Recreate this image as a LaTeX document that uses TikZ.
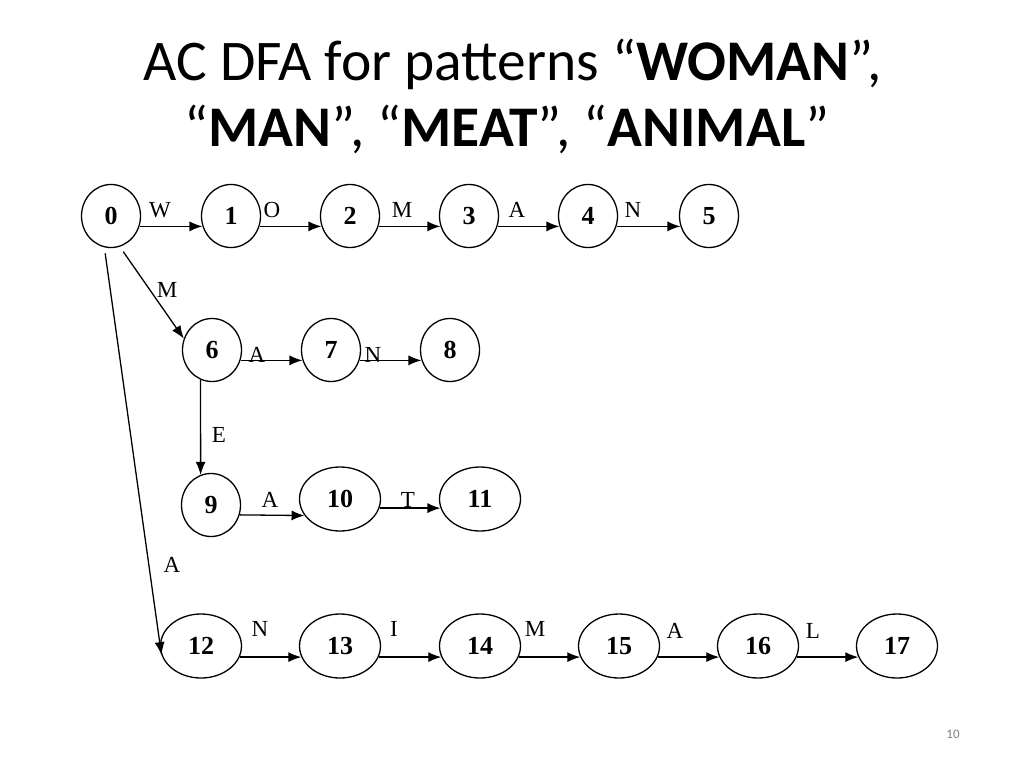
\documentclass[tikz,border=0pt]{standalone}
\usepackage{fontspec}
\setmainfont{Liberation Serif}
\newfontfamily\titlefont{Carlito}
\usetikzlibrary{arrows.meta,shapes.geometric}
\begin{document}
\begin{tikzpicture}[x=1pt,y=-1pt,
  st/.style={draw,ellipse,line width=1.3pt,inner sep=0pt,minimum width=59pt,minimum height=63pt,font=\fontsize{26}{26}\selectfont\bfseries},
  stw/.style={st,minimum width=81pt,minimum height=64pt},
  tr/.style={line width=1.3pt,-{Latex[length=13pt,width=10pt]}},
  lb/.style={font=\fontsize{23}{23}\selectfont,inner sep=0pt}]
\useasboundingbox (0,0) rectangle (1024,768);
\node[anchor=base,font=\titlefont\fontsize{57.5}{57.5}\selectfont] (t1) at (513,81) {AC DFA for patterns “\textbf{WOMAN}”,};
\node[anchor=base,font=\titlefont\fontsize{57.5}{57.5}\selectfont] (t2) at (507,146) {“\textbf{MAN}”, “\textbf{MEAT}”, “\textbf{ANIMAL}”};
% row 1
\node[st] (n0) at (111,216) {0};
\node[st] (n1) at (231,216) {1};
\node[st] (n2) at (350,216) {2};
\node[st] (n3) at (469,216) {3};
\node[st] (n4) at (588,216) {4};
\node[st] (n5) at (709,216) {5};
% row 2
\node[st] (n6) at (212,350) {6};
\node[st] (n7) at (331,350) {7};
\node[st] (n8) at (450,350) {8};
% row 3
\node[st] (n9) at (211,505) {9};
\node[stw] (n10) at (340,499) {10};
\node[stw] (n11) at (480,499) {11};
% row 4
\node[stw] (n12) at (201,646) {12};
\node[stw] (n13) at (340,646) {13};
\node[stw] (n14) at (480,646) {14};
\node[stw] (n15) at (619,646) {15};
\node[stw] (n16) at (758,646) {16};
\node[stw] (n17) at (897,646) {17};
% edges row 1
\draw[tr] (n0.-20) -- (n1.200);
\draw[tr] (n1.-20) -- (n2.200);
\draw[tr] (n2.-20) -- (n3.200);
\draw[tr] (n3.-20) -- (n4.200);
\draw[tr] (n4.-20) -- (n5.200);
\node[lb] (l01) at (160,210) {W};
\node[lb] (l12) at (272,210) {O};
\node[lb] (l23) at (402,210) {M};
\node[lb] (l34) at (517,210) {A};
\node[lb] (l45) at (633,210) {N};
% branches from 0
\draw[tr,shorten <=6pt] (n0.-74) -- (n6.158);
\node[lb] (l06) at (167,290) {M};
\draw[tr,shorten <=6pt] (n0.-102) -- (n12.193);
\node[lb] (l012) at (172,565) {A};
% row 2
\draw[tr] (n6.-20) -- (n7.200);
\draw[tr] (n7.-20) -- (n8.200);
\node[lb] (l67) at (257,355) {A};
\node[lb] (l78) at (373,355) {N};
\draw[tr] (n6.-111) -- (n9.109);
\node[lb] (l69) at (219,435) {E};
% row 3
\draw[tr] (n9.-19) -- (n10.205);
\draw[tr] (n10.-13) -- (n11.193);
\node[lb] (l910) at (270,500) {A};
\node[lb] (l1011) at (408,500) {T};
% row 4
\draw[tr] (n12.-16) -- (n13.196);
\draw[tr] (n13.-16) -- (n14.196);
\draw[tr] (n14.-16) -- (n15.196);
\draw[tr] (n15.-16) -- (n16.196);
\draw[tr] (n16.-16) -- (n17.196);
\node[lb] (l1213) at (260,629) {N};
\node[lb] (l1314) at (394,629) {I};
\node[lb] (l1415) at (535,629) {M};
\node[lb] (l1516) at (675,631) {A};
\node[lb] (l1617) at (813,631) {L};
% page number
\node[font=\titlefont\fontsize{13}{13}\selectfont,text=black!50] (pg) at (953,734) {10};
\end{tikzpicture}
\end{document}
